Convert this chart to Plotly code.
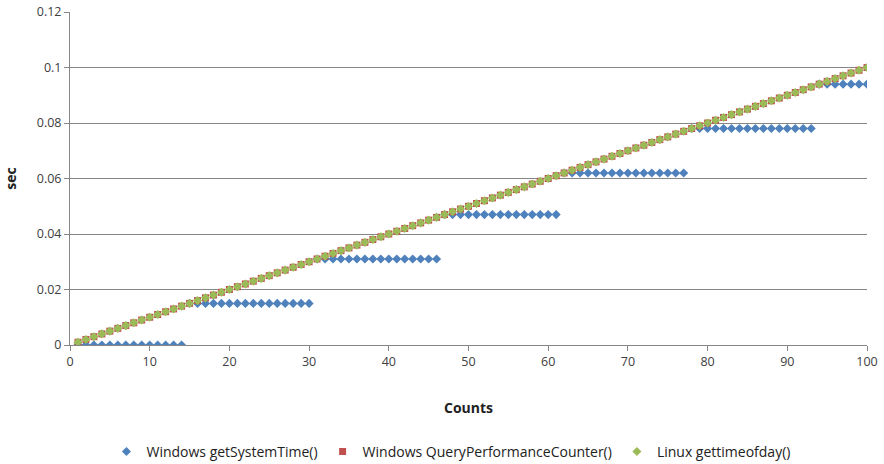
import plotly.graph_objects as go

# Loop counts (1..100) and elapsed time measured by each timer, in seconds
counts = list(range(1, 101))

get_system_time = (
    [0.0] * 14
    + [0.015] * 16
    + [0.031] * 16
    + [0.047] * 15
    + [0.062] * 16
    + [0.078] * 16
    + [0.094] * 7
)
query_perf_counter = [round(c * 0.001, 3) for c in counts]
gettimeofday = [round(c * 0.001, 3) for c in counts]

y_ticks = [0, 0.02, 0.04, 0.06, 0.08, 0.1, 0.12]
y_tick_text = ["0", "0.02", "0.04", "0.06", "0.08", "0.1", "0.12"]
x_ticks = [0, 10, 20, 30, 40, 50, 60, 70, 80, 90, 100]

FONT = "Open Sans"

fig = go.Figure()
fig.add_trace(go.Scatter(
    x=counts, y=get_system_time, mode="markers",
    name="Windows getSystemTime()",
    marker=dict(symbol="diamond", size=7, color="#4F81BD"),
))
fig.add_trace(go.Scatter(
    x=counts, y=query_perf_counter, mode="markers",
    name="Windows QueryPerformanceCounter()",
    marker=dict(symbol="square", size=7, color="#C0504D"),
))
fig.add_trace(go.Scatter(
    x=counts, y=gettimeofday, mode="markers",
    name="Linux gettimeofday()",
    marker=dict(symbol="diamond", size=7, color="#9BBB59"),
))

fig.update_layout(
    width=884, height=464,
    margin=dict(l=70, r=17, t=12, b=119, autoexpand=False),
    paper_bgcolor="white", plot_bgcolor="white",
    font=dict(family=FONT, size=12, color="#404040"),
    showlegend=True,
    legend=dict(
        orientation="h", x=0.478, xanchor="center",
        yref="container", y=0.026, yanchor="middle",
        font=dict(family=FONT, size=14, color="#222222"),
        itemsizing="trace", itemwidth=30, tracegroupgap=0,
    ),
    xaxis=dict(
        range=[0, 100], tickvals=x_ticks, showgrid=False, zeroline=False,
        showline=True, linecolor="#868686", linewidth=1, automargin=False,
        ticks="outside", ticklen=5, tickcolor="#868686",
        tickfont=dict(family=FONT, size=12.5, color="#404040"),
        title=dict(text="<b>Counts</b>", font=dict(family=FONT, size=14, color="#222222"), standoff=34),
    ),
    yaxis=dict(
        range=[0, 0.12], tickvals=y_ticks, ticktext=y_tick_text,
        showgrid=True, gridcolor="#868686", gridwidth=1, zeroline=False,
        showline=True, linecolor="#868686", linewidth=1, automargin=False,
        ticks="outside", ticklen=5, tickcolor="#868686",
        tickfont=dict(family=FONT, size=12.5, color="#404040"),
        title=dict(text="<b>sec</b>", font=dict(family=FONT, size=14, color="#222222"), standoff=16),
    ),
)

fig.write_html("out.html")
